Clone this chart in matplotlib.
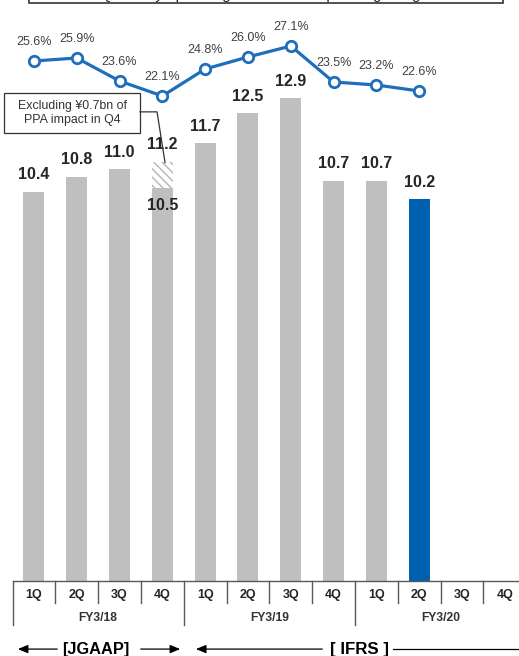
import matplotlib
matplotlib.use("Agg")
import matplotlib.pyplot as plt
from matplotlib.patches import Rectangle

plt.rcParams['font.family'] = ['Liberation Sans', 'DejaVu Sans']

# ---- data ----
quarters = ['1Q', '2Q', '3Q', '4Q', '1Q', '2Q', '3Q', '4Q', '1Q', '2Q', '3Q', '4Q']
fiscal_years = ['FY3/18', 'FY3/19', 'FY3/20']
operating_income = [10.4, 10.8, 11.0, 10.5, 11.7, 12.5, 12.9, 10.7, 10.7, 10.2]
ppa_excluded_q4 = 11.2          # FY3/18 4Q excluding the PPA impact
operating_margin = [25.6, 25.9, 23.6, 22.1, 24.8, 26.0, 27.1, 23.5, 23.2, 22.6]
callout_text = 'Excluding ¥0.7bn of\nPPA impact in Q4'
title_text = 'Quarterly operating income and operating margin'

GRAY = '#BFBFBF'
BLUE_BAR = '#0060B0'
BLUE_LINE = '#1F6EBB'
TEXT = '#262626'

W, H = 519, 656
fig = plt.figure(figsize=(W / 100, H / 100), dpi=100)
ax = fig.add_axes([0, 0, 1, 1])

# x: one unit per quarter; y: income in ¥bn
ax.set_xlim(-0.792, 11.33)
ax.set_ylim(-2.005, 15.53)
ax.axis('off')

n = len(operating_income)
xs = list(range(n))
colors = [GRAY] * (n - 1) + [BLUE_BAR]
ax.bar(xs, operating_income, width=0.49, color=colors, linewidth=0, zorder=2)

# hatched portion: PPA impact on FY3/18 4Q
ax.bar(3, ppa_excluded_q4 - operating_income[3], bottom=operating_income[3], width=0.49,
       facecolor='white', edgecolor='#B5B5B5', hatch='\\\\\\\\', linewidth=0, zorder=2)

# value labels
for i, v in enumerate(operating_income):
    dy = -12.5 if i == 3 else 12.3
    ax.annotate(f'{v:.1f}', (i, v), xytext=(0, dy), textcoords='offset points',
                ha='center', va='center', fontsize=11.5, fontweight='bold', color=TEXT, zorder=4)
ax.annotate(f'{ppa_excluded_q4:.1f}', (3, ppa_excluded_q4), xytext=(0, 12.3), textcoords='offset points',
            ha='center', va='center', fontsize=11.5, fontweight='bold', color=TEXT, zorder=4)

# callout box with leader line
ax.add_patch(Rectangle((-0.699, 11.98), 2.479 + 0.699, 13.05 - 11.98, facecolor='white',
                       edgecolor='#333333', linewidth=0.9, zorder=5, clip_on=False))
ax.text(0.89, 12.51, callout_text, ha='center', va='center', fontsize=8.9, color='#333333',
        linespacing=1.3, zorder=6)
ax.plot([2.479, 2.876, 3.063], [12.54, 12.54, 11.18], color='#333333', linewidth=0.9, zorder=5)

# operating margin line on its own scale
ax2 = ax.twinx()
ax2.set_ylim(-33.9, 31.7)
ax2.axis('off')
ax2.plot(xs, operating_margin, color=BLUE_LINE, linewidth=2.3, marker='o', markersize=7.5,
         markerfacecolor='white', markeredgecolor=BLUE_LINE, markeredgewidth=2.0, zorder=3)
for i, m in enumerate(operating_margin):
    ax2.annotate(f'{m:.1f}%', (i, m), xytext=(0, 13.5), textcoords='offset points',
                 ha='center', va='center', fontsize=9, color='#404040')

# category axis
line_kw = dict(color='#595959', linewidth=1.0, clip_on=False)
ax.plot([-0.5, 11.5], [0, 0], **line_kw)
for b in range(13):
    x = b - 0.5
    depth = -1.18 if b % 4 == 0 else -0.59
    ax.plot([x, x], [0, depth], **line_kw)
for i, q in enumerate(quarters):
    ax.text(i, -0.374, q, ha='center', va='center', fontsize=9, fontweight='bold', color=TEXT)
for k, fy in enumerate(fiscal_years):
    ax.text(4 * k + 1.5, -0.99, fy, ha='center', va='center', fontsize=8.7, fontweight='bold', color='#333333')

# accounting standard arrows
arrow_y = -1.82
akw = dict(arrowstyle='-|>,head_length=0.6,head_width=0.25', color='black', linewidth=0.9)
ax.annotate('', xy=(-0.44, arrow_y), xytext=(0.61, arrow_y), arrowprops=akw)
ax.annotate('', xy=(3.48, arrow_y), xytext=(2.43, arrow_y), arrowprops=akw)
ax.text(1.45, arrow_y, '[JGAAP]', ha='center', va='center', fontsize=11.8, fontweight='bold', color='black')
ax.annotate('', xy=(3.72, arrow_y), xytext=(6.8, arrow_y), arrowprops=akw)
ax.plot([8.39, 11.5], [arrow_y, arrow_y], color='black', linewidth=0.9, clip_on=True)
ax.text(7.596, arrow_y, '[ IFRS ]', ha='center', va='center', fontsize=12.2, fontweight='bold', color='black')

# title frame, mostly above the visible area
fig.patches.append(Rectangle((29 / W, 1 - 3 / H), (503 - 29) / W, 40 / H, transform=fig.transFigure,
                             facecolor='white', edgecolor='#333333', linewidth=1.2))
fig.text(266 / W, 1 + 1.5 / H, title_text, ha='center', va='baseline', fontsize=11, color=TEXT)

fig.savefig('out.png', dpi=100)
